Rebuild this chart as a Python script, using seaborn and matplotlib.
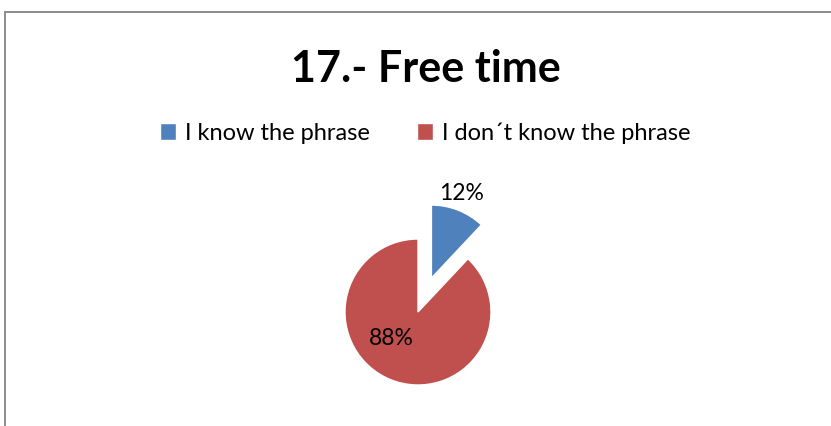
import matplotlib.pyplot as plt
import seaborn as sns
from matplotlib.patches import Rectangle

# data
labels = ["I know the phrase", "I don\u00b4t know the phrase"]
shares = [12, 88]
explode = [0.5, 0]
colors = ["#4F81BD", "#C0504D"]
title = "17.- Free time"

sns.set_style("white")
plt.rcParams["font.family"] = ["Lato", "DejaVu Sans"]
plt.rcParams["text.color"] = "black"

fig = plt.figure(figsize=(8.31, 4.26), dpi=100)

# outer chart border (cut off on right and bottom)
fig.patches.append(Rectangle((4.5 / 831, -0.1), 1.2, 1 - 11.5 / 426 + 0.1,
                             transform=fig.transFigure, fill=False,
                             edgecolor="#8c8c8c", linewidth=1.4))

# pie axes: center (418, 312) px, radius 73 px
ax = fig.add_axes([272 / 831, -32 / 426, 292 / 831, 292 / 426])
wedges, texts, autotexts = ax.pie(shares, explode=explode, colors=colors,
                                  startangle=90, counterclock=False,
                                  autopct="%d%%", radius=1,
                                  textprops={"fontsize": 16.5, "color": "black"})
autotexts[0].set_position((0.59, 1.63))
autotexts[1].set_position((-0.37, -0.36))
ax.set_xlim(-2, 2)
ax.set_ylim(-2, 2)
ax.set_aspect("equal")
ax.axis("off")

fig.text(426 / 831, 1 - 69 / 426, title, ha="center", va="center",
         fontsize=31, fontweight="bold", color="black")

fig.legend(wedges, labels, loc="center", bbox_to_anchor=(425 / 831, 1 - 133 / 426),
           ncol=2, frameon=False, fontsize=17, handlelength=0.7,
           handleheight=0.7, handletextpad=0.35, columnspacing=2.0,
           labelcolor="black")

fig.savefig("out.png", dpi=100)
